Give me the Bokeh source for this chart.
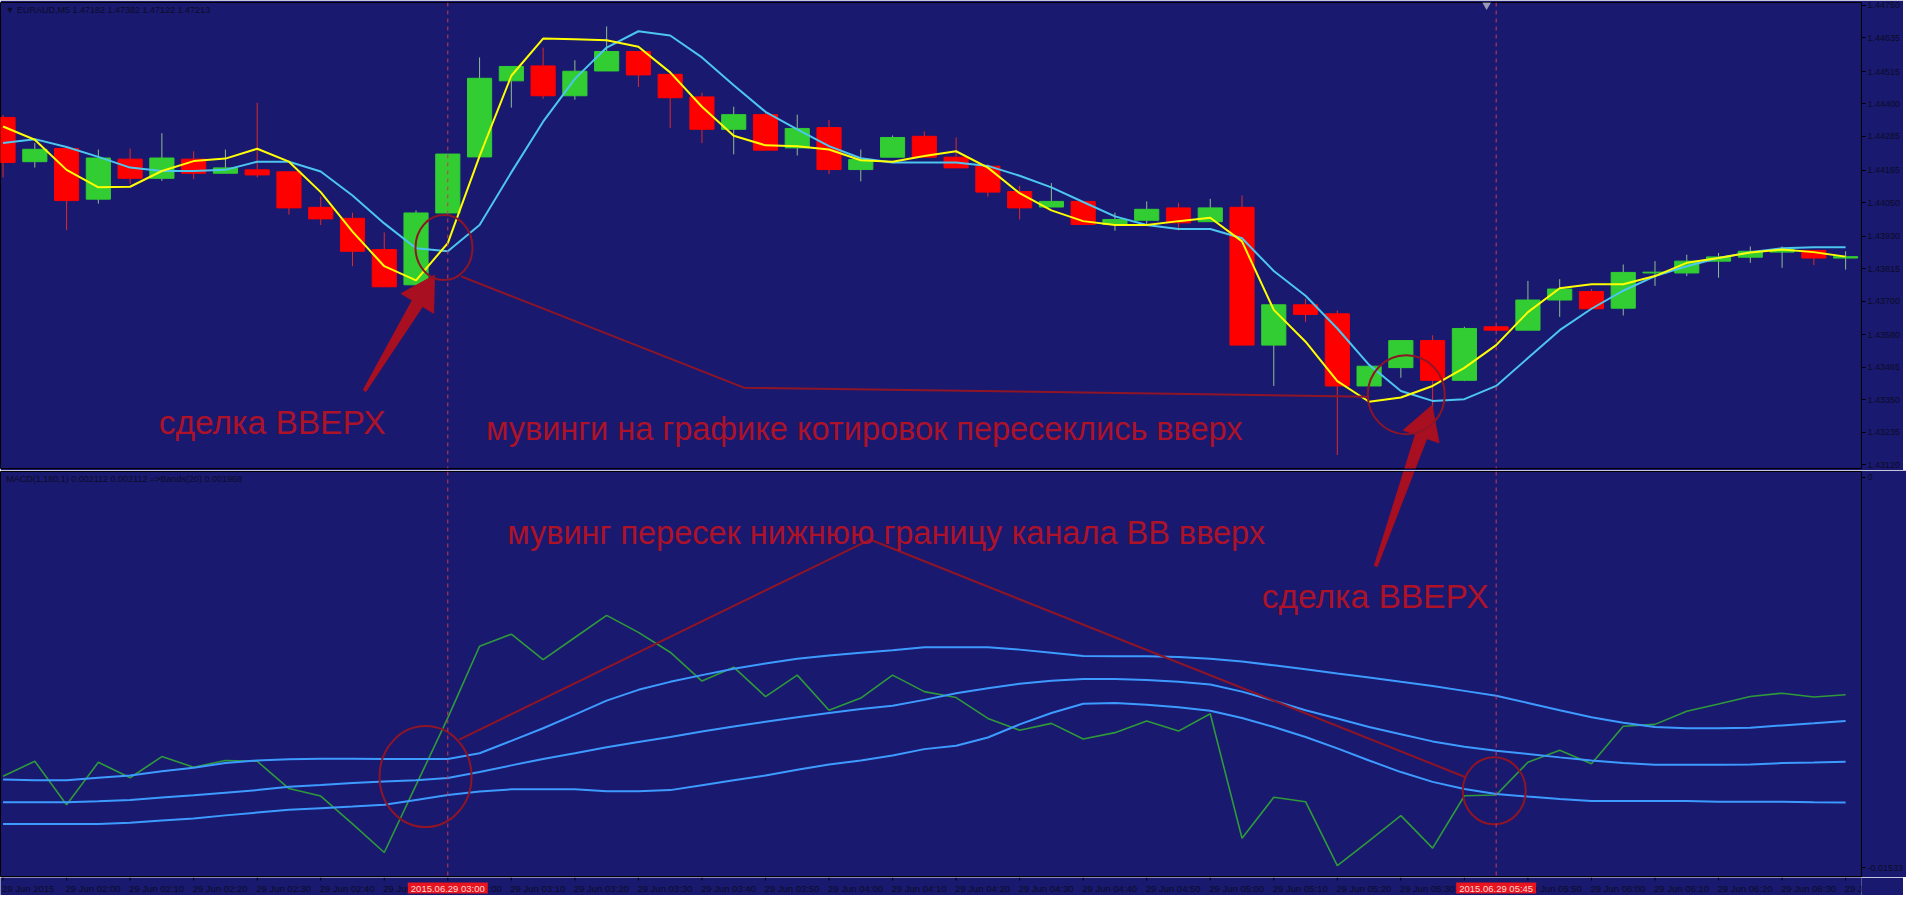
import numpy as np
from bokeh.plotting import figure
from bokeh.layouts import column
from bokeh.models import Range1d, FixedTicker, Span, Label, NumeralTickFormatter, ColumnDataSource
from bokeh.core.properties import value
from bokeh.embed import file_html
from bokeh.resources import INLINE

# ---------------- data ----------------
symbol_header = "\u25bc EURAUD,M5  1.47182 1.47382 1.47122 1.47213"
macd_header = "MACD(1,180,1) 0.002112 0.002112  =>Bands(20) 0.001968"

label_bars = [0, 2, 4, 6, 8, 10, 12, 14, 16, 18, 20, 22, 24, 26, 28, 30,
              32, 34, 36, 38, 40, 42, 44, 46, 48, 50, 52, 54, 56, 58]
time_labels = ["29 Jun 2015", "29 Jun 02:00", "29 Jun 02:10", "29 Jun 02:20", "29 Jun 02:30",
               "29 Jun 02:40", "29 Jun 02:50", "29 Jun 03:00", "29 Jun 03:10", "29 Jun 03:20",
               "29 Jun 03:30", "29 Jun 03:40", "29 Jun 03:50", "29 Jun 04:00", "29 Jun 04:10",
               "29 Jun 04:20", "29 Jun 04:30", "29 Jun 04:40", "29 Jun 04:50", "29 Jun 05:00",
               "29 Jun 05:10", "29 Jun 05:20", "29 Jun 05:30", "29 Jun 05:40", "29 Jun 05:50",
               "29 Jun 06:00", "29 Jun 06:10", "29 Jun 06:20", "29 Jun 06:30", "29 Jun 06:40"]

price_ticks = [1.44750, 1.44635, 1.44515, 1.44400, 1.44285, 1.44165, 1.44050, 1.43930,
               1.43815, 1.43700, 1.43580, 1.43465, 1.43350, 1.43235, 1.43120]
macd_tick_labels = ["0", "-0.01533"]
macd_tick_values = [-0.00019, -0.01533]

vline_bars = [14, 47]
vline_labels = ["2015.06.29 03:00", "2015.06.29 05:45"]

open_ = [1.44352, 1.44195, 1.44242, 1.44062, 1.44204, 1.44136, 1.44204, 1.44154, 1.44166, 1.44159,
         1.44033, 1.43994, 1.43883, 1.43758, 1.44013, 1.44212, 1.44482, 1.44535, 1.44429, 1.44517,
         1.44586, 1.44505, 1.44425, 1.44310, 1.44362, 1.44244, 1.44316, 1.44167, 1.44211, 1.44285,
         1.44211, 1.44179, 1.44089, 1.44034, 1.44054, 1.43972, 1.43987, 1.44031, 1.43982, 1.44033,
         1.43544, 1.43687, 1.43655, 1.43399, 1.43464, 1.43560, 1.43419, 1.43609, 1.43597, 1.43704,
         1.43734, 1.43675, 1.43800, 1.43800, 1.43842, 1.43856, 1.43874, 1.43880, 1.43853]
close = [1.44192, 1.44239, 1.44057, 1.44208, 1.44136, 1.44208, 1.44154, 1.44173, 1.44148, 1.44031,
         1.43992, 1.43877, 1.43751, 1.44013, 1.44222, 1.44491, 1.44533, 1.44429, 1.44516, 1.44586,
         1.44503, 1.44422, 1.44310, 1.44362, 1.44236, 1.44313, 1.44167, 1.44203, 1.44281, 1.44211,
         1.44173, 1.44087, 1.44031, 1.44054, 1.43972, 1.43990, 1.44026, 1.43978, 1.44031, 1.43544,
         1.43687, 1.43653, 1.43399, 1.43469, 1.43560, 1.43419, 1.43603, 1.43597, 1.43704, 1.43743,
         1.43673, 1.43802, 1.43803, 1.43842, 1.43857, 1.43877, 1.43883, 1.43853, 1.43858]
high = [1.44360, 1.44261, 1.44242, 1.44238, 1.44242, 1.44296, 1.44232, 1.44238, 1.44404, 1.44159,
        1.44071, 1.44014, 1.43944, 1.44022, 1.44222, 1.44565, 1.44533, 1.44600, 1.44555, 1.44675,
        1.44586, 1.44505, 1.44440, 1.44390, 1.44372, 1.44362, 1.44343, 1.44238, 1.44288, 1.44302,
        1.44281, 1.44186, 1.44110, 1.44119, 1.44054, 1.44014, 1.44054, 1.44049, 1.44063, 1.44075,
        1.43687, 1.43708, 1.43667, 1.43469, 1.43562, 1.43579, 1.43609, 1.43609, 1.43772, 1.43778,
        1.43743, 1.43830, 1.43842, 1.43865, 1.43871, 1.43894, 1.43894, 1.43880, 1.43877]
low = [1.44139, 1.44174, 1.43952, 1.44046, 1.44116, 1.44127, 1.44133, 1.44154, 1.44139, 1.44007,
       1.43970, 1.43824, 1.43751, 1.43758, 1.44013, 1.44212, 1.44387, 1.44418, 1.44415, 1.44517,
       1.44460, 1.44314, 1.44261, 1.44221, 1.44236, 1.44217, 1.44151, 1.44125, 1.44211, 1.44211,
       1.44173, 1.44071, 1.43990, 1.44034, 1.43972, 1.43950, 1.43968, 1.43951, 1.43982, 1.43544,
       1.43399, 1.43626, 1.43154, 1.43399, 1.43428, 1.43300, 1.43416, 1.43597, 1.43597, 1.43644,
       1.43673, 1.43649, 1.43754, 1.43789, 1.43783, 1.43836, 1.43818, 1.43828, 1.43812]

ma_fast = [1.44320, 1.44273, 1.44166, 1.44104, 1.44106, 1.44162, 1.44197, 1.44206, 1.44241, 1.44195,
           1.44087, 1.43947, 1.43824, 1.43774, 1.43906, 1.44215, 1.44500, 1.44632, 1.44630, 1.44626,
           1.44603, 1.44512, 1.44390, 1.44287, 1.44253, 1.44250, 1.44238, 1.44200, 1.44195, 1.44215,
           1.44232, 1.44174, 1.44083, 1.44022, 1.43984, 1.43970, 1.43970, 1.43984, 1.43996, 1.43912,
           1.43669, 1.43556, 1.43416, 1.43343, 1.43358, 1.43399, 1.43463, 1.43544, 1.43661, 1.43746,
           1.43760, 1.43760, 1.43789, 1.43836, 1.43853, 1.43873, 1.43883, 1.43874, 1.43858]
ma_slow = [1.44261, 1.44275, 1.44247, 1.44212, 1.44174, 1.44162, 1.44162, 1.44166, 1.44195, 1.44195,
           1.44160, 1.44075, 1.43976, 1.43888, 1.43877, 1.43970, 1.44157, 1.44337, 1.44489, 1.44600,
           1.44658, 1.44643, 1.44565, 1.44466, 1.44372, 1.44310, 1.44250, 1.44207, 1.44192, 1.44192,
           1.44192, 1.44180, 1.44145, 1.44104, 1.44052, 1.44001, 1.43970, 1.43956, 1.43956, 1.43923,
           1.43807, 1.43719, 1.43603, 1.43474, 1.43381, 1.43346, 1.43352, 1.43399, 1.43498, 1.43597,
           1.43673, 1.43737, 1.43789, 1.43824, 1.43853, 1.43874, 1.43888, 1.43891, 1.43891]

macd = [-0.01178, -0.01120, -0.01289, -0.01124, -0.01184, -0.01102, -0.01143, -0.01117, -0.01120, -0.01226,
        -0.01255, -0.01363, -0.01474, -0.01213, -0.00952, -0.00674, -0.00627, -0.00726, -0.00640, -0.00554,
        -0.00620, -0.00697, -0.00809, -0.00755, -0.00869, -0.00786, -0.00922, -0.00875, -0.00786, -0.00850,
        -0.00873, -0.00954, -0.01000, -0.00973, -0.01034, -0.01009, -0.00964, -0.01003, -0.00936, -0.01419,
        -0.01260, -0.01277, -0.01525, -0.01429, -0.01331, -0.01457, -0.01254, -0.01251, -0.01124, -0.01077,
        -0.01130, -0.00984, -0.00977, -0.00926, -0.00898, -0.00869, -0.00856, -0.00871, -0.00862]
bb_upper = [-0.01191, -0.01194, -0.01194, -0.01184, -0.01175, -0.01159, -0.01145, -0.01127, -0.01117, -0.01112,
            -0.01110, -0.01110, -0.01111, -0.01111, -0.01111, -0.01089, -0.01041, -0.00992, -0.00939, -0.00885,
            -0.00843, -0.00812, -0.00786, -0.00761, -0.00741, -0.00722, -0.00710, -0.00699, -0.00689, -0.00678,
            -0.00678, -0.00678, -0.00687, -0.00699, -0.00712, -0.00713, -0.00713, -0.00716, -0.00722, -0.00733,
            -0.00748, -0.00763, -0.00780, -0.00795, -0.00812, -0.00828, -0.00847, -0.00866, -0.00894, -0.00922,
            -0.00949, -0.00971, -0.00987, -0.00992, -0.00992, -0.00990, -0.00981, -0.00973, -0.00964]
bb_mid = [-0.01279, -0.01279, -0.01279, -0.01275, -0.01270, -0.01261, -0.01252, -0.01242, -0.01232, -0.01219,
          -0.01212, -0.01204, -0.01199, -0.01194, -0.01185, -0.01162, -0.01136, -0.01111, -0.01089, -0.01066,
          -0.01045, -0.01026, -0.01005, -0.00985, -0.00967, -0.00949, -0.00933, -0.00917, -0.00905, -0.00882,
          -0.00856, -0.00837, -0.00819, -0.00808, -0.00801, -0.00801, -0.00805, -0.00812, -0.00822, -0.00850,
          -0.00885, -0.00922, -0.00954, -0.00987, -0.01015, -0.01043, -0.01064, -0.01079, -0.01092, -0.01105,
          -0.01117, -0.01127, -0.01134, -0.01134, -0.01134, -0.01133, -0.01127, -0.01125, -0.01122]
bb_lower = [-0.01363, -0.01363, -0.01363, -0.01363, -0.01359, -0.01350, -0.01342, -0.01330, -0.01319, -0.01308,
            -0.01302, -0.01296, -0.01289, -0.01270, -0.01251, -0.01237, -0.01229, -0.01229, -0.01229, -0.01236,
            -0.01236, -0.01232, -0.01213, -0.01194, -0.01175, -0.01153, -0.01133, -0.01117, -0.01098, -0.01073,
            -0.01060, -0.01028, -0.00977, -0.00933, -0.00897, -0.00894, -0.00901, -0.00911, -0.00924, -0.00952,
            -0.00987, -0.01026, -0.01070, -0.01117, -0.01162, -0.01200, -0.01228, -0.01247, -0.01257, -0.01266,
            -0.01274, -0.01274, -0.01274, -0.01274, -0.01277, -0.01277, -0.01277, -0.01279, -0.01280]

note_trade = "сделка ВВЕРХ"
note_ma_cross = "мувинги на графике котировок пересеклись вверх"
note_bb_cross = "мувинг пересек нижнюю границу канала ВВ вверх"

# ---------------- style / layout ----------------
NAVY = "#191970"
FONT = "Liberation Sans"
AX_TXT = "#0c0c26"
RED_TXT = "#ad1228"
RED_LN = "#8f1526"
RED_FILL = "#a80f20"
BULL, BEAR = "#32cd32", "#ff0000"
BULL_WICK, BEAR_WICK = "#8fbc8f", "#e02828"

FW, FH_T, FH_B, FH_S = 1861, 466, 406, 18
RB = 42
XR = (-0.08, 58.5)
YR_T = (1.43106, 1.44760)
YR_B = (-0.01571, 0.00004)
GAP = 3  # top.min_border_bottom + bot.min_border_top

xr = Range1d(*XR)


def make_fig(fh, yr, mbt, mbb):
    p = figure(frame_width=FW, frame_height=fh, x_range=xr, y_range=Range1d(*yr),
               x_axis_location=None, y_axis_location="right",
               toolbar_location=None, output_backend="svg", title=None,
               background_fill_color=NAVY, border_fill_color=NAVY,
               outline_line_color="black", outline_line_width=1,
               min_border_left=0, min_border_right=RB, min_border_top=mbt, min_border_bottom=mbb)
    p.xgrid.visible = False
    p.ygrid.visible = False
    ax = p.yaxis[0]
    ax.axis_line_color = "black"
    ax.major_tick_line_color = "black"
    ax.major_tick_out = 4
    ax.major_tick_in = 0
    ax.minor_tick_line_color = None
    ax.major_label_text_font = FONT
    ax.major_label_text_font_size = "9px"
    ax.major_label_text_color = AX_TXT
    ax.major_label_standoff = 2
    return p


top = make_fig(FH_T, YR_T, 2, 2)
bot = make_fig(FH_B, YR_B, 1, 0)

top.yaxis[0].ticker = FixedTicker(ticks=price_ticks)
top.yaxis[0].formatter = NumeralTickFormatter(format="0.00000")
bot.yaxis[0].ticker = FixedTicker(ticks=macd_tick_values)
bot.yaxis[0].major_label_overrides = {v: t for v, t in zip(macd_tick_values, macd_tick_labels)}

# time scale strip (MT4 writes its labels to the right of each tick)
scale = figure(frame_width=FW, frame_height=FH_S, x_range=xr, y_range=Range1d(0, FH_S),
               x_axis_location=None, y_axis_location=None, toolbar_location=None,
               output_backend="svg", title=None, background_fill_color=NAVY,
               border_fill_color=NAVY, outline_line_color=None,
               min_border_left=0, min_border_right=RB, min_border_top=0, min_border_bottom=0)
scale.xgrid.visible = False
scale.ygrid.visible = False
nlab = len(label_bars)
scale.segment(x0=label_bars, y0=[FH_S] * nlab, x1=label_bars, y1=[FH_S - 3] * nlab,
              line_color="black", line_width=1)
scale.text(x=label_bars, y=[7.5] * nlab, text=time_labels, x_offset=-1,
           text_font=value(FONT), text_font_size="9.5px", text_color=AX_TXT,
           text_align="left", text_baseline="middle")
scale.rect(x=vline_bars, y=[7.5] * len(vline_bars), width=[80] * len(vline_bars),
           height=[11] * len(vline_bars), width_units="screen", height_units="screen",
           fill_color="#e8141e", line_color=None)
scale.text(x=vline_bars, y=[7.5] * len(vline_bars), text=vline_labels,
           text_font=value(FONT), text_font_size="9.5px", text_color="#ffd6d6",
           text_align="center", text_baseline="middle")

# ---------------- candles ----------------
o = np.array(open_); c = np.array(close); h = np.array(high); l = np.array(low)
x = np.arange(len(o))
bull = c >= o
src = ColumnDataSource(dict(
    x=x, top=np.maximum(o, c), bottom=np.minimum(o, c), high=h, low=l,
    body=[BULL if b else BEAR for b in bull], wick=[BULL_WICK if b else BEAR_WICK for b in bull]))
top.segment(x0="x", y0="low", x1="x", y1="high", line_color="wick", line_width=1, source=src)
top.vbar(x="x", width=0.76, top="top", bottom="bottom", fill_color="body", line_color="body",
         line_width=1, source=src)
top.line(x, ma_slow, line_color="#4cc6ee", line_width=2)
top.line(x, ma_fast, line_color="#ffff00", line_width=2)

# ---------------- MACD + bands ----------------
bot.line(x, macd, line_color="#2e9a3a", line_width=1.6)
for band in (bb_upper, bb_mid, bb_lower):
    bot.line(x, band, line_color="#3d9bff", line_width=2)

for p in (top, bot):
    for vb in vline_bars:
        p.add_layout(Span(location=vb, dimension="height", line_color="#d3374d",
                          line_width=1, line_dash="4 4"))

top.add_layout(Label(x=0.08, y=1.44733, text=symbol_header, text_font=FONT,
                     text_font_size="9px", text_color=AX_TXT, text_baseline="middle"))
bot.add_layout(Label(x=0.10, y=-0.00027, text=macd_header, text_font=FONT,
                     text_font_size="9px", text_color=AX_TXT, text_baseline="middle"))
top.scatter([46.7], [1.44752], marker="inverted_triangle", size=9,
            fill_color="#9a9ab8", line_color=None)


# ---------------- drawings (anchored in data units) ----------------
def px_x(b):
    return (b - XR[0]) / (XR[1] - XR[0]) * FW


def bar_of(px):
    return XR[0] + px / FW * (XR[1] - XR[0])


def px_top(v):
    return (YR_T[1] - v) / (YR_T[1] - YR_T[0]) * FH_T


def val_top(py):
    return YR_T[1] - py / FH_T * (YR_T[1] - YR_T[0])


BOT_Y0 = FH_T + GAP


def px_bot(v):
    return BOT_Y0 + (YR_B[1] - v) / (YR_B[1] - YR_B[0]) * FH_B


def val_bot(py):
    return YR_B[1] - (py - BOT_Y0) / FH_B * (YR_B[1] - YR_B[0])


def arrow_poly(tail, tip, head_len=33, head_hw=19, base_hw=6, tail_hw=1.5):
    (x0, y0), (x1, y1) = tail, tip
    dx, dy = x1 - x0, y1 - y0
    L = (dx * dx + dy * dy) ** 0.5
    ux, uy = dx / L, dy / L
    nx, ny = -uy, ux
    bx, by = x1 - ux * head_len, y1 - uy * head_len
    return [(x0 + nx * tail_hw, y0 + ny * tail_hw), (bx + nx * base_hw, by + ny * base_hw),
            (bx + nx * head_hw, by + ny * head_hw), (x1, y1),
            (bx - nx * head_hw, by - ny * head_hw), (bx - nx * base_hw, by - ny * base_hw),
            (x0 - nx * tail_hw, y0 - ny * tail_hw)]


a1 = arrow_poly((px_x(11.38), px_top(1.43382)), (px_x(13.58), px_top(1.43792)))
top.patch([bar_of(p[0]) for p in a1], [val_top(p[1]) for p in a1],
          fill_color=RED_FILL, line_color=RED_FILL, line_width=1)
a2 = arrow_poly((px_x(43.21), px_bot(-0.00363)), (px_x(44.98), px_top(1.43330)))
top.patch([bar_of(p[0]) for p in a2], [val_top(p[1]) for p in a2],
          fill_color=RED_FILL, line_color=RED_FILL, line_width=1)
bot.patch([bar_of(p[0]) for p in a2], [val_bot(p[1]) for p in a2],
          fill_color=RED_FILL, line_color=RED_FILL, line_width=1)

top.ellipse(x=[13.88, 44.17], y=[1.43890, 1.43368], width=[57, 77], height=[65, 79],
            width_units="screen", height_units="screen", fill_color=None,
            line_color=RED_LN, line_width=2)
bot.ellipse(x=[13.30, 46.94], y=[-0.011794, -0.012348], width=[92, 63], height=[101, 67],
            width_units="screen", height_units="screen", fill_color=None,
            line_color=RED_LN, line_width=2)

top.line([14.42, 23.32, 42.96], [1.43788, 1.43393, 1.43361], line_color=RED_LN, line_width=2)
bot.line([14.36, 27.29, 46.02], [-0.01036, -0.00260, -0.01181], line_color=RED_LN, line_width=2)

top.text(x=[4.90], y=[1.43270], text=[note_trade], text_font=value(FONT),
         text_font_size="33.5px", text_color=RED_TXT, text_baseline="alphabetic")
top.text(x=[15.20], y=[1.43246], text=[note_ma_cross], text_font=value(FONT),
         text_font_size="32.5px", text_color=RED_TXT, text_baseline="alphabetic")
bot.text(x=[15.87], y=[-0.00233], text=[note_bb_cross], text_font=value(FONT),
         text_font_size="32.5px", text_color=RED_TXT, text_baseline="alphabetic")
bot.text(x=[39.62], y=[-0.00482], text=[note_trade], text_font=value(FONT),
         text_font_size="33.5px", text_color=RED_TXT, text_baseline="alphabetic")

layout = column(top, bot, scale, spacing=0)
open("out.html", "w").write(file_html(layout, INLINE))
